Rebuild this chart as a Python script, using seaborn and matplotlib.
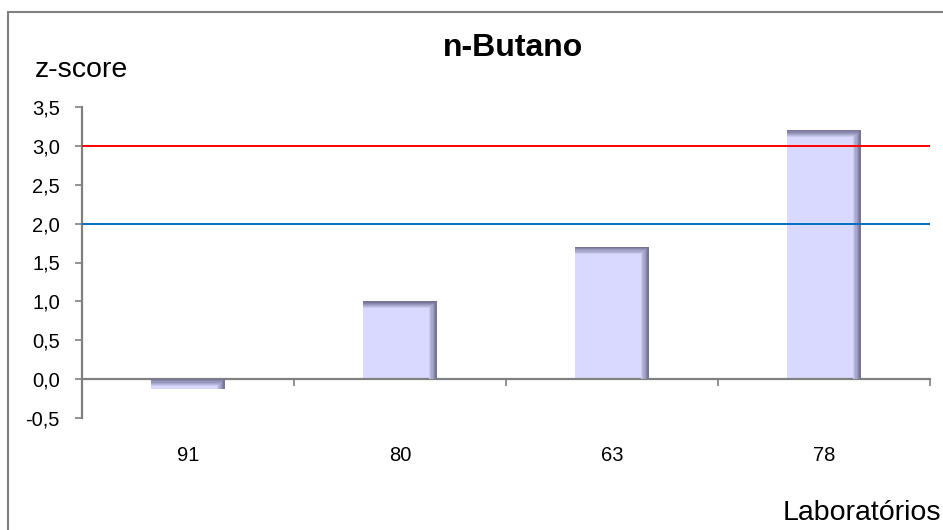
import numpy as np
import matplotlib
matplotlib.use('Agg')
import matplotlib.pyplot as plt
import seaborn as sns
from matplotlib.patches import Rectangle
from matplotlib.colors import to_rgb
from matplotlib.ticker import FuncFormatter, FixedLocator

# data
labs = ['91', '80', '63', '78']
zscores = [-0.13, 1.0, 1.7, 3.2]
limit_warn = 2.0
limit_action = 3.0
yticks = [-0.5, 0.0, 0.5, 1.0, 1.5, 2.0, 2.5, 3.0, 3.5]

sns.set_style('white')
plt.rcParams['font.family'] = ['Liberation Sans', 'DejaVu Sans']
plt.rcParams['text.color'] = 'black'
plt.rcParams['xtick.color'] = 'black'
plt.rcParams['ytick.color'] = 'black'

fig = plt.figure(figsize=(9.43, 5.3), dpi=100)
ax = fig.add_axes([82 / 943, 1 - 418 / 530, (930 - 82) / 943, (418 - 107) / 530])

face = '#D9D9FF'
dark = '#767699'
sns.barplot(x=labs, y=zscores, order=labs, color=face, saturation=1,
            width=0.345, ax=ax, edgecolor='none')

# bevel-like shading on the right and top of each bar
c0, c1 = np.array(to_rgb(face)), np.array(to_rgb(dark))
nstep = 6
for p in list(ax.patches):
    x0, y0, w, h = p.get_x(), p.get_y(), p.get_width(), p.get_height()
    ylo, yhi = min(y0, y0 + h), max(y0, y0 + h)
    band_w = w * 0.11
    band_h = min(0.09, yhi - ylo)
    for i in range(nstep):
        f = (i + 1) / nstep
        col = c0 + (c1 - c0) * f
        # right band
        ax.add_patch(Rectangle((x0 + w - band_w * (1 - i / nstep), ylo),
                               band_w / nstep, yhi - ylo, color=col, lw=0, zorder=3))
        # top band
        ax.add_patch(Rectangle((x0, yhi - band_h * (1 - i / nstep)),
                               w, band_h / nstep, color=col, lw=0, zorder=3))

ax.axhline(limit_action, color='#FF0000', lw=1.4, zorder=4)
ax.axhline(limit_warn, color='#0070C0', lw=1.4, zorder=4)

ax.set_xlim(-0.5, 3.5)
ax.set_ylim(-0.5, 3.5)
ax.set_yticks(yticks)
ax.yaxis.set_major_formatter(FuncFormatter(lambda v, _: f'{v:.1f}'.replace('.', ',')))
ax.tick_params(axis='y', direction='out', length=5, width=1.2, color='#808080',
               labelcolor='black', labelsize=14.5, pad=11, left=True)

ax.spines['bottom'].set_position(('data', 0))
for s in ['top', 'right']:
    ax.spines[s].set_visible(False)
for s in ['left', 'bottom']:
    ax.spines[s].set_color('#808080')
    ax.spines[s].set_linewidth(1.6)
ax.xaxis.set_minor_locator(FixedLocator([0.5, 1.5, 2.5, 3.5]))
ax.tick_params(axis='x', which='minor', direction='out', length=5, width=1.2,
               color='#808080', bottom=True)
ax.tick_params(axis='x', which='major', length=0, labelcolor='black',
               labelsize=14.5, pad=48)
ax.set_xlabel('')
ax.set_ylabel('')

fig.text(513 / 943, 1 - 48 / 530, 'n-Butano', ha='center', va='center',
         fontsize=23, fontweight='bold', color='black')
fig.text(35 / 943, 1 - 70 / 530, 'z-score', ha='left', va='center',
         fontsize=20.5, color='black')
fig.text(941 / 943, 1 - 513 / 530, 'Laboratórios', ha='right', va='center',
         fontsize=20.5, color='black')

fig.patches.append(Rectangle((8 / 943, -0.1), 1.2, 1 - 12 / 530 + 0.1,
                             transform=fig.transFigure, fill=False,
                             edgecolor='#808080', lw=1.5))

fig.savefig('out.png', dpi=100)
